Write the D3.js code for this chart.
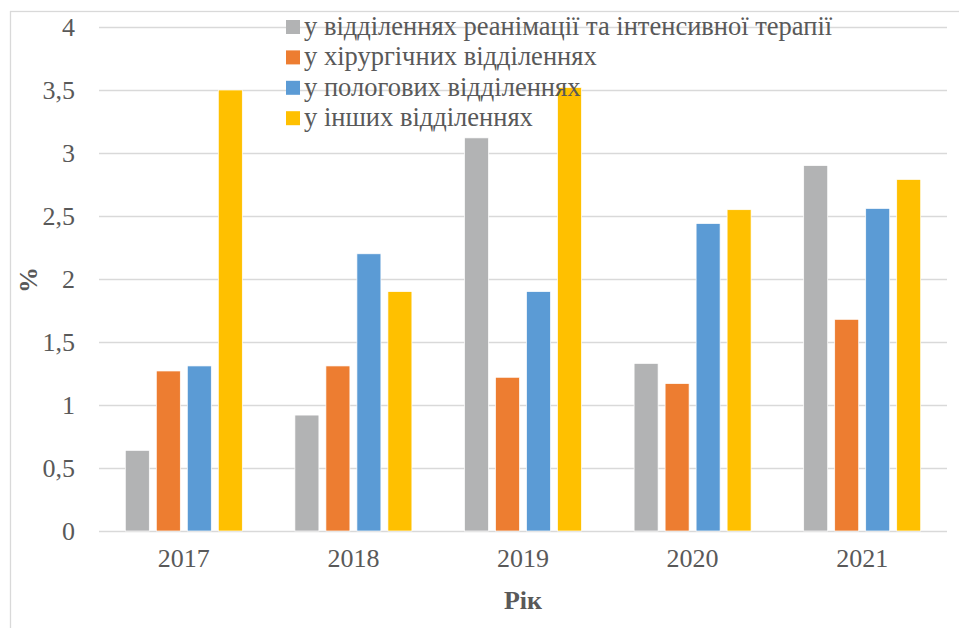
<!DOCTYPE html>
<html>
<head>
<meta charset="utf-8">
<script src="https://cdn.jsdelivr.net/npm/d3@7"></script>
<style>
  body { margin: 0; background: #fff; }
</style>
</head>
<body>
<svg id="chart" width="959" height="628"></svg>
<script>
// data
const years = ["2017", "2018", "2019", "2020", "2021"];
const seriesNames = [
  "у відділеннях реанімації та інтенсивної терапії",
  "у хірургічних відділеннях",
  "у пологових відділеннях",
  "у інших відділеннях"
];
const icu = [0.64, 0.92, 3.12, 1.33, 2.9];
const surgical = [1.27, 1.31, 1.22, 1.17, 1.68];
const maternity = [1.31, 2.2, 1.9, 2.44, 2.56];
const other = [3.5, 1.9, 3.52, 2.55, 2.79];
const yTicks = [0, 0.5, 1, 1.5, 2, 2.5, 3, 3.5, 4];
const colors = ["#b2b3b4", "#ed7d31", "#5b9bd5", "#ffc000"];

const values = [icu, surgical, maternity, other];

// layout
const margin = { top: 27, right: 12, bottom: 97, left: 99 };
const innerW = 947 - margin.left;
const innerH = 531 - margin.top;
const textColor = "#595959";
const FONT = "'Liberation Serif', 'Times New Roman', serif";

const svg = d3.select("#chart");

// outer frame of the chart area
svg.append("rect")
  .attr("x", 10.5).attr("y", 11.5)
  .attr("width", 1000).attr("height", 700)
  .attr("fill", "none")
  .attr("stroke", "#d9d9d9")
  .attr("stroke-width", 1.3);

const g = svg.append("g").attr("transform", `translate(${margin.left},${margin.top})`);

const x0 = d3.scaleBand().domain(years).range([0, innerW]).padding(0);
const x1 = d3.scaleBand().domain(d3.range(seriesNames.length))
  .range([0, 117]).paddingInner(0.226).paddingOuter(0);
const y = d3.scaleLinear().domain([0, 4]).range([innerH, 0]);

// y axis with gridlines
const yAxis = g.append("g")
  .call(d3.axisLeft(y).tickValues(yTicks).tickSize(-innerW).tickPadding(24)
    .tickFormat(d => String(d).replace(".", ",")));
yAxis.select(".domain").remove();
yAxis.selectAll(".tick line").attr("stroke", "#d9d9d9").attr("stroke-width", 1.3);
yAxis.selectAll(".tick text")
  .attr("fill", textColor)
  .style("font-family", FONT)
  .style("font-size", "26px");

// x axis labels
const xAxis = g.append("g")
  .attr("transform", `translate(0,${innerH})`)
  .call(d3.axisBottom(x0).tickSize(0).tickPadding(18));
xAxis.select(".domain").remove();
xAxis.selectAll(".tick text")
  .attr("fill", textColor)
  .style("font-family", FONT)
  .style("font-size", "26px");

// bars
const groups = g.selectAll(".year")
  .data(years)
  .join("g")
  .attr("class", "year")
  .attr("transform", d => `translate(${x0(d) + x0.bandwidth() / 2 - 58.5},0)`);

groups.selectAll("rect")
  .data((d, i) => values.map((s, k) => ({ k, v: s[i] })))
  .join("rect")
  .attr("x", d => x1(d.k))
  .attr("width", x1.bandwidth())
  .attr("y", d => y(d.v))
  .attr("height", d => innerH - y(d.v))
  .attr("fill", d => colors[d.k])
  .attr("stroke", "#fff")
  .attr("stroke-width", 0.7);

// axis titles
svg.append("text")
  .attr("x", margin.left + innerW / 2)
  .attr("y", 609)
  .attr("text-anchor", "middle")
  .style("font-family", FONT)
  .style("font-size", "26px")
  .style("font-weight", "bold")
  .attr("fill", textColor)
  .text("Рік");

svg.append("text")
  .attr("transform", `translate(37,280) rotate(-90)`)
  .attr("text-anchor", "middle")
  .style("font-family", FONT)
  .style("font-size", "26px")
  .style("font-weight", "bold")
  .attr("fill", textColor)
  .text("%");

// legend, drawn over the plot
const legend = svg.append("g").attr("transform", "translate(286,20)");
const item = legend.selectAll("g")
  .data(seriesNames)
  .join("g")
  .attr("transform", (d, i) => `translate(0,${i * 30.4})`);
item.append("rect")
  .attr("width", 14).attr("height", 14)
  .attr("fill", (d, i) => colors[i]);
item.append("text")
  .attr("x", 18)
  .attr("y", 15)
  .style("font-family", FONT)
  .style("font-size", "26.5px")
  .attr("fill", textColor)
  .text(d => d);
</script>
</body>
</html>
